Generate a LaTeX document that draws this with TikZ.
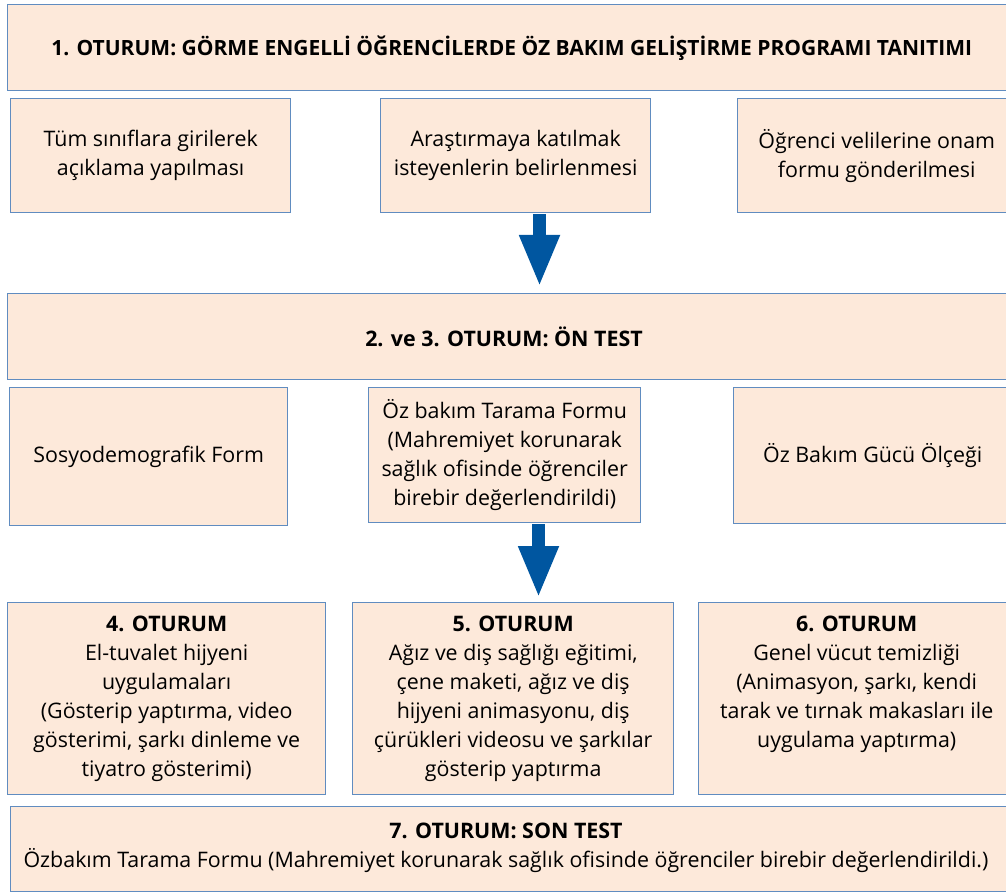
\documentclass[tikz,border=0pt]{standalone}
\usepackage{fontspec}
\setmainfont{Open Sans}
\usetikzlibrary{arrows.meta}
\definecolor{boxfill}{RGB}{253,233,218}
\definecolor{boxline}{RGB}{96,140,192}
\definecolor{arrowblue}{RGB}{0,86,160}
\begin{document}
\begin{tikzpicture}[x=1pt,y=-1pt,
  box/.style={draw=boxline, fill=boxfill, line width=1.4pt, inner sep=0pt, anchor=north west, align=center, font=\fontsize{21.4}{29}\selectfont},
  txt/.style={align=center, inner sep=0pt, font=\fontsize{21.4}{29}\selectfont},
  bigarrow/.style={draw=arrowblue, line width=13pt, -{Triangle[width=37pt,length=52pt]}, arrowblue}]
\useasboundingbox (0,0) rectangle (1006,893);
% row 1
\node[box, minimum width=1008pt, minimum height=86pt] (s1) at (7,4) {\fontsize{21}{29}\selectfont\textbf{1. OTURUM: GÖRME ENGELLİ ÖĞRENCİLERDE ÖZ BAKIM GELİŞTİRME PROGRAMI TANITIMI}};
\node[box, minimum width=280pt, minimum height=114pt] (a1) at (10,98) {Tüm sınıflara girilerek\\açıklama yapılması};
\node[box, minimum width=270pt, minimum height=114pt] (a2) at (380,98) {Araştırmaya katılmak\\isteyenlerin belirlenmesi};
\node[box, minimum width=278pt, minimum height=114pt] (a3) at (737,98) {Öğrenci velilerine onam\\formu gönderilmesi};
% row 2
\node[box, minimum width=1008pt, minimum height=86pt] (s2) at (7,293) {};
\node[txt] (s2t) at (504,337) {\textbf{2. ve 3. OTURUM: ÖN TEST}};
\node[box, minimum width=278pt, minimum height=138pt] (b1) at (9,387) {Sosyodemografik Form};
\node[box, minimum width=272pt, minimum height=135pt] (b2) at (368,387) {Öz bakım Tarama Formu\\(Mahremiyet korunarak\\sağlık ofisinde öğrenciler\\birebir değerlendirildi)};
\node[box, minimum width=278pt, minimum height=136pt] (b3) at (733,387) {Öz Bakım Gücü Ölçeği};
% row 3
\node[box, minimum width=318pt, minimum height=192pt] (c1) at (7,602) {\textbf{4. OTURUM}\\El-tuvalet hijyeni\\uygulamaları\\(Gösterip yaptırma, video\\gösterimi, şarkı dinleme ve\\tiyatro gösterimi)};
\node[box, minimum width=321pt, minimum height=192pt] (c2) at (352,602) {\textbf{5. OTURUM}\\Ağız ve diş sağlığı eğitimi,\\çene maketi, ağız ve diş\\hijyeni animasyonu, diş\\çürükleri videosu ve şarkılar\\gösterip yaptırma};
\node[box, minimum width=316pt, minimum height=192pt] (c3) at (698,602) {\textbf{6. OTURUM}\\Genel vücut temizliği\\(Animasyon, şarkı, kendi\\tarak ve tırnak makasları ile\\uygulama yaptırma)\\\vphantom{gy)}};
% row 4
\node[box, minimum width=1005pt, minimum height=85pt] (s7) at (10,806) {};
\node[txt] (s7t) at (506,848) {\textbf{7. OTURUM: SON TEST}\\Özbakım Tarama Formu (Mahremiyet korunarak sağlık ofisinde öğrenciler birebir değerlendirildi.)};
% arrows
\draw[bigarrow, shorten <=0.7pt, shorten >=6pt] (a2.south -| 539.5,0) -- (s2.north -| 539.5,0);
\draw[bigarrow, shorten <=0.7pt, shorten >=4pt] (b2.south -| 538.5,0) -- (c2.north -| 538.5,0);
\end{tikzpicture}
\end{document}
